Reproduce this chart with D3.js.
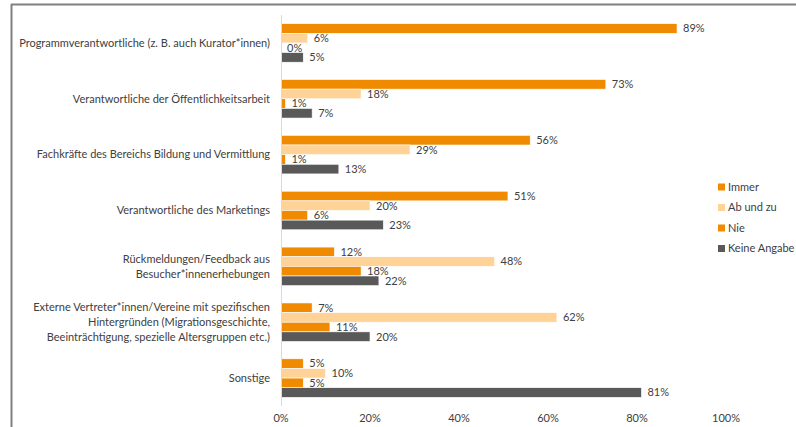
<!DOCTYPE html>
<html>
<head>
<meta charset="utf-8">
<script src="https://cdn.jsdelivr.net/npm/d3@7"></script>
<style>
  body { margin: 0; background: #fff; }
  svg { display: block; font-family: Lato, "Open Sans", sans-serif; }
</style>
</head>
<body>
<div class="canvas"></div>
<script>

var categories = [
  ["Programmverantwortliche (z. B. auch Kurator*innen)"],
  ["Verantwortliche der Öffentlichkeitsarbeit"],
  ["Fachkräfte des Bereichs Bildung und Vermittlung"],
  ["Verantwortliche des Marketings"],
  ["Rückmeldungen/Feedback aus", "Besucher*innenerhebungen"],
  ["Externe Vertreter*innen/Vereine mit spezifischen", "Hintergründen (Migrationsgeschichte,", "Beeinträchtigung, spezielle Altersgruppen etc.)"],
  ["Sonstige"]
];

var seriesNames = ["Immer", "Ab und zu", "Nie", "Keine Angabe"];
var immer = [89, 73, 56, 51, 12, 7, 5];
var abUndZu = [6, 18, 29, 20, 48, 62, 10];
var nie = [0, 1, 1, 6, 18, 11, 5];
var keineAngabe = [5, 7, 13, 23, 22, 20, 81];
var ticks = [0, 20, 40, 60, 80, 100];

var colors = ["#f08a00", "#ffd398", "#f08a00", "#595959"];
var series = [immer, abUndZu, nie, keineAngabe];

var width = 796, height = 427;

var svg = d3.select(".canvas").append("svg")
  .attr("width", width)
  .attr("height", height);

// outer frame (top and left edges visible)
svg.append("line").attr("x1", 11).attr("x2", width).attr("y1", 4.5).attr("y2", 4.5)
  .attr("stroke", "#808080").attr("stroke-width", 2);
svg.append("line").attr("x1", 11.5).attr("x2", 11.5).attr("y1", 4).attr("y2", height)
  .attr("stroke", "#808080").attr("stroke-width", 2);

var x = d3.scaleLinear().domain([0, 100]).range([281, 726]);

var y = d3.scaleBand()
  .domain(d3.range(categories.length))
  .range([15, 406])
  .paddingInner(0.31)
  .paddingOuter(0.155);

var ys = d3.scaleBand()
  .domain(d3.range(series.length))
  .range([0, y.bandwidth()]);

// bars
series.forEach(function(vals, s) {
  var g = svg.append("g");
  g.selectAll("rect").data(vals).enter().append("rect")
    .attr("x", x(0))
    .attr("y", function(d, i) { return y(i) + ys(s); })
    .attr("width", function(d) { return x(d) - x(0); })
    .attr("height", ys.bandwidth())
    .attr("fill", colors[s])
    .attr("stroke", "#fff")
    .attr("stroke-width", 0.6);

  g.selectAll("text").data(vals).enter().append("text")
    .attr("x", function(d) { return x(d) + 6; })
    .attr("y", function(d, i) { return y(i) + ys(s) + ys.bandwidth() / 2; })
    .attr("dy", "0.35em")
    .attr("font-size", 11)
    .attr("fill", "#404040")
    .text(function(d) { return d + "%"; });
});

// vertical axis line
svg.append("line")
  .attr("x1", x(0) + 0.5).attr("x2", x(0) + 0.5)
  .attr("y1", 15).attr("y2", 406)
  .attr("stroke", "#d9d9d9");

// category labels
var lineH = 15;
categories.forEach(function(lines, i) {
  var cy = y(i) + y.bandwidth() / 2;
  var t = svg.append("text")
    .attr("text-anchor", "end")
    .attr("font-size", 11)
    .attr("fill", "#404040");
  lines.forEach(function(l, k) {
    t.append("tspan")
      .attr("x", 270)
      .attr("y", cy + (k - (lines.length - 1) / 2) * lineH)
      .attr("dy", "0.35em")
      .text(l);
  });
});

// x tick labels
svg.selectAll("text.tick").data(ticks).enter().append("text")
  .attr("class", "tick")
  .attr("x", function(d) { return x(d); })
  .attr("y", 418)
  .attr("dy", "0.35em")
  .attr("text-anchor", "middle")
  .attr("font-size", 11)
  .attr("fill", "#404040")
  .text(function(d) { return d + "%"; });

// legend
var leg = svg.append("g").attr("transform", "translate(718,187)");
seriesNames.forEach(function(n, i) {
  var row = leg.append("g").attr("transform", "translate(0," + (i * 20.5) + ")");
  row.append("rect").attr("x", 0).attr("y", -3.5).attr("width", 7).attr("height", 7)
    .attr("fill", colors[i]);
  row.append("text").attr("x", 10).attr("dy", "0.35em")
    .attr("font-size", 11).attr("fill", "#404040").text(n);
});

</script>
</body>
</html>
